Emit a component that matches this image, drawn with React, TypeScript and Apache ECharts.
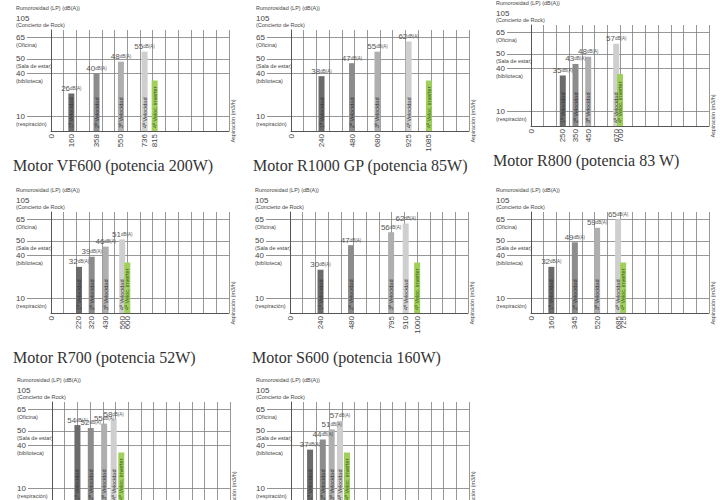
import React, { useEffect, useRef } from 'react';
import * as echarts from 'echarts';

// airflow (m3/h) and noise (dB(A)) per speed, per motor
const vf600Flow = [160, 358, 550, 736, 815];
const vf600Noise = [26, 40, 48, 55, 35];
const r1000Flow = [240, 480, 680, 925, 1085];
const r1000Noise = [38, 47, 55, 62, 35];
const r800Flow = [250, 350, 450, 670, 700];
const r800Noise = [35, 43, 48, 57, 36];
const r700Flow = [220, 320, 430, 560, 600];
const r700Noise = [32, 39, 46, 51, 35];
const s600Flow = [240, 480, 795, 910, 1000];
const s600Noise = [30, 47, 56, 62, 35];
const motor6Flow = [160, 345, 520, 685, 725];
const motor6Noise = [32, 49, 59, 65, 35];
const motor7Flow = [200, 305, 410, 485, 545];
const motor7Noise = [54, 52, 55, 58, 35];
const motor8Flow = [150, 250, 320, 385, 440];
const motor8Noise = [37, 44, 51, 57, 35];

const motorTitles = [
    'Motor VF600 (potencia 200W)',
    'Motor R1000 GP (potencia 85W)',
    'Motor R800 (potencia 83 W)',
    'Motor R700 (potencia 52W)',
    'Motor S600 (potencia 160W)',
    '', '', ''
];
const speedLabels = ['1ª Velocidad', '2ª Velocidad', '3ª Velocidad', '4ª Velocidad', '4ª Veloc. inverter'];
const refLevels = [10, 40, 50, 65];
const refNames: Record<number, string> = { 10: '(respiración)', 40: '(biblioteca)', 50: '(Sala de estar)', 65: '(Oficina)' };

const flows = [vf600Flow, r1000Flow, r800Flow, r700Flow, s600Flow, motor6Flow, motor7Flow, motor8Flow];
const noises = [vf600Noise, r1000Noise, r800Noise, r700Noise, s600Noise, motor6Noise, motor7Noise, motor8Noise];

// panel placement (px)
const panelPos = [
    { left: 51, top: 30, titleY: 165 },
    { left: 291, top: 30, titleY: 165 },
    { left: 531, top: 25, titleY: 160 },
    { left: 51, top: 212, titleY: 357 },
    { left: 290, top: 212, titleY: 357 },
    { left: 531, top: 212, titleY: 357 },
    { left: 52, top: 402, titleY: 547 },
    { left: 291, top: 402, titleY: 547 }
];

const barColors = ['#6b6b6b', '#8c8c8c', '#afafaf', '#cfcfcf', '#9fd05a'];
const FONT = 'Liberation Sans, Arial, sans-serif';
const GRID_COLOR = '#7d7d7d';
const X_MAX = 1400;
const PW = 178;
const PH = 101;

const App: React.FC = () => {
    const chartRef = useRef<HTMLDivElement>(null);

    useEffect(() => {
        if (!chartRef.current) return;
        const myChart = echarts.init(chartRef.current, null, { renderer: 'svg' });

        const grid: any[] = [];
        const xAxis: any[] = [];
        const yAxis: any[] = [];
        const series: any[] = [];
        const graphic: any[] = [];

        panelPos.forEach((p, i) => {
            grid.push({ left: p.left, top: p.top, width: PW, height: PH, containLabel: false, outerBoundsMode: 'none' });
            xAxis.push({
                type: 'value', gridIndex: i, min: 0, max: X_MAX, interval: 100,
                axisLine: { show: true, onZero: false, lineStyle: { color: '#555', width: 1 } },
                axisTick: { show: false },
                splitLine: { show: true, lineStyle: { color: GRID_COLOR, width: 0.8 } },
                axisLabel: {
                    // trailing empty label at the axis end keeps the overlapping pairs visible
                    customValues: [0, ...flows[i], X_MAX], rotate: 90, margin: 3, hideOverlap: false,
                    showMaxLabel: true, showMinLabel: true,
                    formatter: (v: number) => (v === X_MAX ? '' : String(v)),
                    fontSize: 8, color: '#444', fontFamily: FONT
                }
            });
            yAxis.push({
                type: 'value', gridIndex: i, min: 0, max: 70, interval: 5,
                axisLine: { show: true, lineStyle: { color: '#555', width: 1 } },
                axisTick: { show: true, customValues: refLevels, length: 24, lineStyle: { color: '#777', width: 0.8 } },
                splitLine: { show: true, lineStyle: { color: GRID_COLOR, width: 0.8 } },
                axisLabel: {
                    customValues: refLevels, align: 'left', margin: 35, hideOverlap: false,
                    showMaxLabel: true, showMinLabel: true,
                    formatter: (v: number) => `{s| }\n{v|${v}}\n{s|${refNames[v] || ''}}`,
                    rich: {
                        v: { fontSize: 8, lineHeight: 9, color: '#444', fontFamily: FONT },
                        s: { fontSize: 5.5, lineHeight: 6, color: '#444', fontFamily: FONT }
                    }
                }
            });

            const data = flows[i].map((x, j) => ({
                value: [x, noises[i][j]],
                itemStyle: { color: barColors[j] },
                label: { show: j < 4 }
            }));
            series.push({
                type: 'bar', xAxisIndex: i, yAxisIndex: i, barWidth: 6, barGap: '-100%',
                data,
                label: {
                    show: true, position: 'top', distance: 1,
                    formatter: (pr: any) => `{a|${pr.value[1]}}{b|dB(A)}`,
                    rich: {
                        a: { fontSize: 8, color: '#555', fontFamily: FONT },
                        b: { fontSize: 4.5, color: '#555', fontFamily: FONT }
                    }
                },
                labelLayout: { hideOverlap: false }
            });
            series.push({
                type: 'bar', xAxisIndex: i, yAxisIndex: i, barWidth: 6, barGap: '-100%',
                data: flows[i].map((x, j) => ({
                    value: [x, noises[i][j]],
                    label: { color: j === 4 ? '#3d5c1c' : '#333' }
                })),
                itemStyle: { color: 'rgba(0,0,0,0)' },
                label: {
                    show: true, position: 'insideBottom', rotate: 90, align: 'left', verticalAlign: 'middle',
                    distance: 3, fontSize: 5.5, fontFamily: FONT,
                    formatter: (pr: any) => speedLabels[pr.dataIndex]
                }
            });

            const L = p.left;
            const T = p.top;
            graphic.push(
                { type: 'text', x: L - 35, y: T - 22, style: { text: 'Rumorosidad (LP) (dB(A))', fontSize: 5.5, fill: '#444', fontFamily: FONT, textVerticalAlign: 'middle' } },
                { type: 'text', x: L - 35, y: T - 12, style: { text: '105', fontSize: 8, fill: '#444', fontFamily: FONT, textVerticalAlign: 'middle' } },
                { type: 'text', x: L - 35, y: T - 5, style: { text: '(Concierto de Rock)', fontSize: 5.5, fill: '#444', fontFamily: FONT, textVerticalAlign: 'middle' } },
                { type: 'text', x: L + 182, y: T + 91, rotation: Math.PI / 2, style: { text: 'Aspiración (m3/h)', fontSize: 5.5, fill: '#444', fontFamily: FONT, textAlign: 'center', textVerticalAlign: 'middle' } }
            );
            if (motorTitles[i]) {
                graphic.push({ type: 'text', x: L - 38, y: p.titleY, style: { text: motorTitles[i], fontSize: 16, fill: '#333', fontFamily: 'Liberation Serif, Times New Roman, serif', textVerticalAlign: 'middle' } });
            }
        });

        myChart.setOption({
            animation: false,
            backgroundColor: '#fff',
            grid, xAxis, yAxis, series, graphic
        });

        return () => {
            myChart.dispose();
        };
    }, []);

    return (
        <div ref={chartRef} style={{ position: 'fixed', left: 0, top: 0, width: '720px', height: '500px', background: '#fff' }} />
    );
};

export default App;
